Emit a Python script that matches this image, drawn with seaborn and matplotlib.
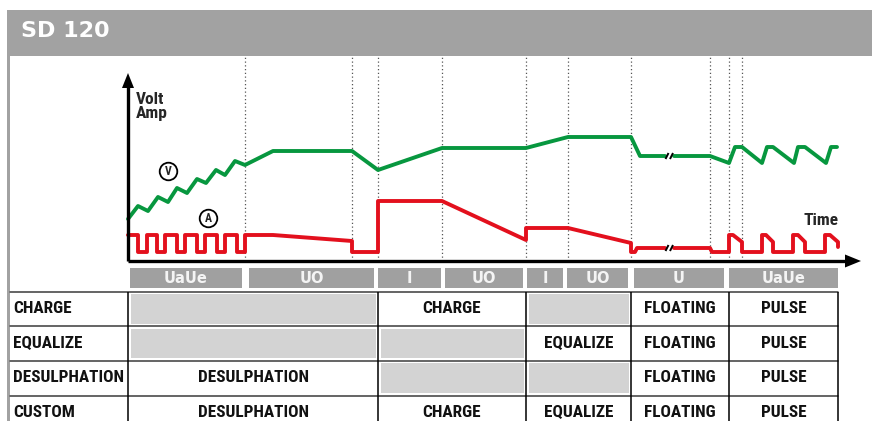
import matplotlib
matplotlib.use("Agg")
import matplotlib.pyplot as plt
from matplotlib import font_manager
from matplotlib.patches import Rectangle, Circle, Polygon
import pandas as pd
import seaborn as sns

# ---------------------------------------------------------------- data ----
# Charging-curve profile: time (t) and relative level, one unit per pixel.
volt_t = [0, 10, 20, 30, 40, 49, 59, 69, 78, 88, 97, 107, 117, 145, 224, 250,
          314, 398, 440, 503, 512, 537, 546, 582, 601, 607, 614, 634, 639, 645,
          666, 670, 677, 698, 703, 709]
volt_level = [42, 55, 50, 64, 59, 73, 68, 82, 78, 91, 86, 100, 96, 110, 110, 91,
              113, 113, 124, 124, 105, 105, 105, 105, 98, 114, 114, 98, 114, 114,
              98, 114, 114, 98, 114, 114]

amp_t = [0, 10, 10, 19, 19, 29, 29, 37, 37, 49, 49, 57, 57, 69, 69, 77, 77,
         89, 89, 97, 97, 109, 109, 117, 117, 145, 224, 224, 250, 250, 314,
         398, 398, 440, 503, 503, 507, 509, 537,
         546, 582, 584, 601, 601, 605, 614, 614, 634, 634, 638, 645, 645,
         665, 665, 670, 677, 677, 697, 697, 702, 710, 710]
amp_level = [26, 26, 9, 9, 26, 26, 9, 9, 26, 26, 9, 9, 26, 26, 9, 9, 26,
             26, 9, 9, 26, 26, 9, 9, 26, 26, 20, 9, 9, 60, 60,
             21, 33, 33, 18, 9, 9, 13, 13,
             13, 13, 9, 9, 26, 26, 19, 9, 9, 26, 26, 19, 9,
             9, 26, 26, 19, 9, 9, 26, 26, 19, 14]

# time gap drawn as a "//" break in the floating stage
break_t = (537, 546)

# stage boundaries (dotted markers)
stage_t = [117, 224, 250, 314, 398, 440, 503, 582, 601, 614]

# phase tabs under the time axis
phase_labels = ["UaUe", "UO", "I", "UO", "I", "UO", "U", "UaUe"]
phase_start = [2, 121, 250, 317, 399, 439, 506, 601]
phase_end = [114, 246, 313, 395, 435, 500, 596, 710]

# mode table (None = step not used)
mode_names = ["CHARGE", "EQUALIZE", "DESULPHATION", "CUSTOM"]
mode_cells = [
    [None, "CHARGE", None, "FLOATING", "PULSE"],
    [None, None, "EQUALIZE", "FLOATING", "PULSE"],
    ["DESULPHATION", None, None, "FLOATING", "PULSE"],
    ["DESULPHATION", "CHARGE", "EQUALIZE", "FLOATING", "PULSE"],
]
column_edges = [0, 250, 398, 503, 601, 710]

title = "SD 120"

# -------------------------------------------------------------- styling ---
GREEN = "#07973f"
RED = "#e3101d"
HEADER_GRAY = "#a2a2a2"
TAB_GRAY = "#a0a0a0"
CELL_GRAY = "#d3d3d3"

sns.set_theme(style="white")


def pick_font(*names):
    available = {f.name for f in font_manager.fontManager.ttflist}
    for n in names:
        if n in available:
            return n
    return "DejaVu Sans"


NARROW = pick_font("Liberation Sans Narrow", "Roboto Condensed",
                   "DejaVu Sans Condensed", "Liberation Sans")
plt.rcParams["font.family"] = ["DejaVu Sans"]
narrow = [NARROW, "DejaVu Sans"]

fig = plt.figure(figsize=(8.72, 4.21), dpi=100)
ax = fig.add_axes([0, 0, 1, 1])
ax.set_xlim(-128, 744)
ax.set_ylim(-160, 261)

# ------------------------------------------------------------- frame ------
ax.add_patch(Rectangle((-121, 205.4), 865, 45.6, color=HEADER_GRAY, lw=0, zorder=1))
ax.add_patch(Rectangle((-121, -160), 3, 365.4, color=HEADER_GRAY, lw=0, zorder=1))
ax.text(-107, 224, title, color="white", fontsize=16, fontweight="bold",
        va="baseline", ha="left", zorder=5)

# --------------------------------------------------------- stage markers --
ax.vlines(stage_t, 0, 204, colors="#555555", linestyles=(0, (1, 2)),
          linewidth=0.9, zorder=2)

# ------------------------------------------------------------ curves ------
volt_df = pd.DataFrame({"t": volt_t, "level": volt_level})
volt_df["segment"] = (volt_df["t"] >= break_t[1]).astype(int)
amp_df = pd.DataFrame({"t": amp_t, "level": amp_level})
amp_df["segment"] = (amp_df["t"] >= break_t[1]).astype(int)

sns.lineplot(data=volt_df, x="t", y="level", units="segment", estimator=None,
             sort=False, color=GREEN, linewidth=2.8, legend=False, ax=ax,
             zorder=4)
sns.lineplot(data=amp_df, x="t", y="level", units="segment", estimator=None,
             sort=False, color=RED, linewidth=2.8, legend=False, ax=ax,
             zorder=4)

# "//" break marks on both curves
for lvl in (105, 13):
    for cx in (break_t[0] + 2, break_t[1] - 2.5):
        ax.plot([cx - 1.5, cx + 1.5], [lvl - 3, lvl + 3], color="black",
                lw=1.4, solid_capstyle="butt", zorder=5)

# curve markers
for cx, cy, letter in ((40.5, 89.5, "V"), (80.5, 42.5, "A")):
    ax.add_patch(Circle((cx, cy), 8.8, facecolor="white", edgecolor="black",
                        lw=1.3, zorder=5))
    ax.text(cx, cy, letter, fontsize=8.5, fontweight="bold", ha="center",
            va="center", family=narrow, zorder=6)

# ------------------------------------------------------------- axes -------
ax.plot([0, 0], [0, 174], color="black", lw=2.4, solid_capstyle="butt", zorder=6)
ax.add_patch(Polygon([(-6, 173), (6, 173), (0, 188)], closed=True,
                     color="black", lw=0, zorder=6))
ax.plot([0, 718], [0, 0], color="black", lw=2.4, solid_capstyle="butt", zorder=6)
ax.add_patch(Polygon([(717, -6.5), (717, 6.5), (733, 0)], closed=True,
                     color="black", lw=0, zorder=6))

ax.text(8, 157, "Volt", fontsize=12.5, fontweight="bold", family=narrow,
        ha="left", va="baseline", zorder=6)
ax.text(8, 143, "Amp", fontsize=12.5, fontweight="bold", family=narrow,
        ha="left", va="baseline", zorder=6)
ax.text(710, 36, "Time", fontsize=12.5, fontweight="bold", family=narrow,
        ha="right", va="baseline", zorder=6)

# ------------------------------------------------------------ phase tabs --
for lab, s, e in zip(phase_labels, phase_start, phase_end):
    ax.add_patch(Rectangle((s, -27), e - s, 20, color=TAB_GRAY, lw=0, zorder=2))
    ax.text((s + e) / 2, -22, lab, color="#f4f4f4", fontsize=10.5,
            fontweight="bold", ha="center", va="baseline", zorder=3)

# ------------------------------------------------------------ mode table --
table_top = -30.7
row_h = 34.6
left = -118
right = column_edges[-1]

for i, (name, cells) in enumerate(zip(mode_names, mode_cells)):
    top = table_top - i * row_h
    base = top - 21.3
    ax.text(left + 3, base, name, fontsize=12.4, fontweight="bold", family=narrow,
            ha="left", va="baseline", color="#111111", zorder=4)
    for j, cell in enumerate(cells):
        c0, c1 = column_edges[j], column_edges[j + 1]
        if cell is None:
            ax.add_patch(Rectangle((c0 + 2.5, top - row_h + 2.5), c1 - c0 - 5,
                                   row_h - 5, color=CELL_GRAY, lw=0, zorder=2))
        else:
            ax.text((c0 + c1) / 2, base, cell, fontsize=12.4, fontweight="bold",
                    family=narrow, ha="center", va="baseline",
                    color="#111111", zorder=4)

for i in range(len(mode_names)):
    y = table_top - i * row_h
    ax.plot([left, right], [y, y], color="#3a3a3a", lw=1.1, zorder=3)
ax.vlines(column_edges, -170, table_top, colors="black", linewidth=1.1, zorder=3)

ax.set_axis_off()
fig.savefig("out.png", dpi=100)
